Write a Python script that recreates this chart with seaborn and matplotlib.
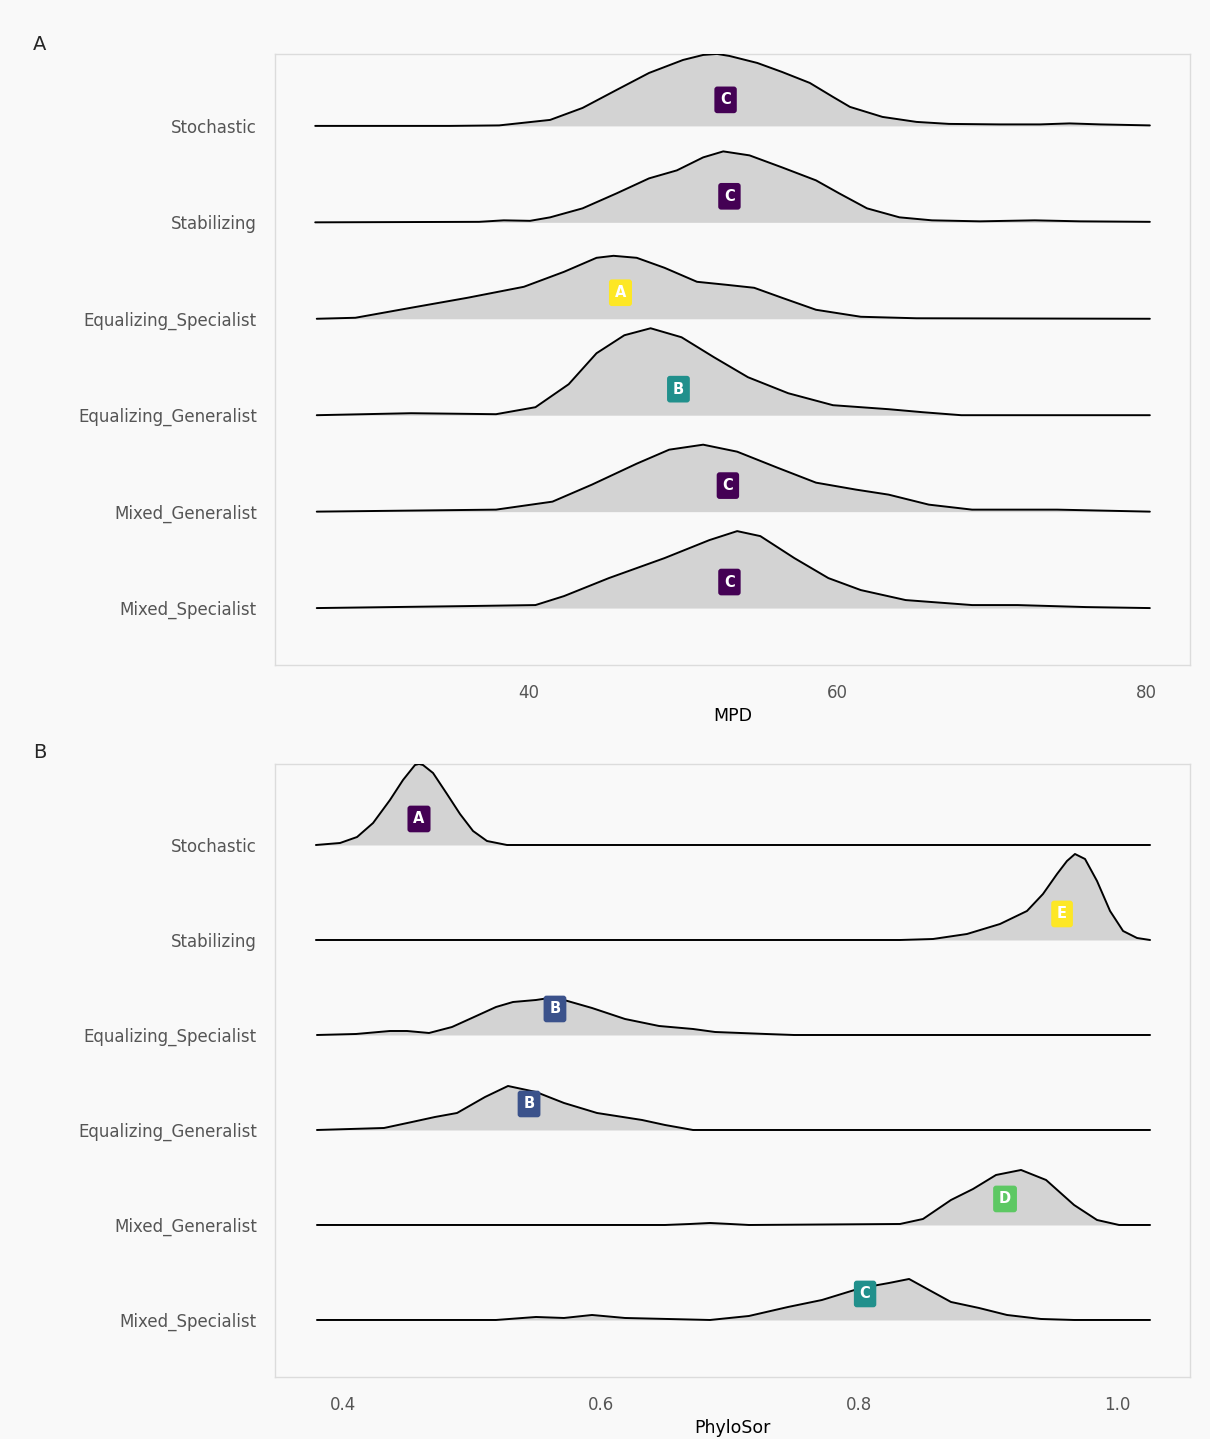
import numpy as np
import pandas as pd
import matplotlib
matplotlib.use("Agg")
import matplotlib.pyplot as plt
import seaborn as sns

# ---- categories (top to bottom) ----
groups = ["Stochastic", "Stabilizing", "Equalizing_Specialist",
          "Equalizing_Generalist", "Mixed_Generalist", "Mixed_Specialist"]

# ---- MPD densities (x in MPD units, relative density height) ----
mpd_x = {
    "Stochastic": [26.2, 34.9, 38.1, 41.4, 43.5, 45.7, 47.8, 50.0, 51.3, 52.2, 53.0, 54.8,
                   56.4, 58.2, 59.7, 60.8, 62.9, 65.1, 67.2, 70.5, 73.1, 75.0, 77.0, 80.2],
    "Stabilizing": [26.2, 36.8, 38.4, 40.1, 41.4, 43.5, 45.7, 47.8, 49.6, 51.3, 52.6, 54.3,
                    56.4, 58.6, 60.1, 61.9, 64.0, 66.1, 69.2, 72.75, 75.7, 80.2],
    "Equalizing_Specialist": [26.3, 28.8, 32.4, 36.05, 39.7, 42.3, 44.4, 45.5, 47.0, 48.8,
                              50.9, 52.8, 54.6, 56.4, 58.6, 61.5, 65.1, 80.2],
    "Equalizing_Generalist": [26.3, 32.4, 37.9, 40.45, 42.6, 44.4, 46.2, 47.9, 49.9, 52.0,
                              54.2, 56.8, 59.7, 63.3, 65.5, 68.0, 80.2],
    "Mixed_Generalist": [26.3, 37.9, 41.55, 44.1, 47.0, 49.1, 51.3, 53.5, 56.1, 58.6, 61.2,
                         63.3, 65.9, 68.7, 74.2, 80.2],
    "Mixed_Specialist": [26.3, 36.05, 40.45, 42.3, 45.2, 48.8, 51.7, 53.5, 55.0, 57.2, 59.4,
                         61.5, 64.4, 68.7, 71.65, 76.05, 80.2],
}
mpd_h = {
    "Stochastic": [0, 0, 0.5, 6, 18, 36, 53, 66, 71, 72, 70, 63, 54, 43, 29, 19, 9, 4, 2,
                   1.5, 1.5, 2.5, 1.5, 0.5],
    "Stabilizing": [0, 0.5, 2, 1.5, 5, 14, 29, 44, 52, 65, 71, 67, 55, 42, 29, 14, 5, 2, 1,
                    2, 1, 0.5],
    "Equalizing_Specialist": [0, 1, 11, 21, 32, 47, 61, 63, 61, 51, 37, 34, 31, 21, 9, 2,
                              0.5, 0],
    "Equalizing_Generalist": [0, 2, 1, 8, 31, 62, 80, 87, 78, 58, 38, 22, 10, 6, 3, 0, 0],
    "Mixed_Generalist": [0, 2, 10, 27, 48, 62, 67, 60, 44, 29, 22, 17, 7, 2, 2, 0],
    "Mixed_Specialist": [0, 2, 3, 12, 30, 50, 68, 77, 72, 50, 30, 18, 8, 3, 3, 1, 0],
}
mpd_letters = ["C", "C", "A", "B", "C", "C"]
mpd_label_x = [52.75, 53.0, 45.95, 49.7, 52.9, 53.0]
mpd_colors = {"A": "#FDE725", "B": "#21908C", "C": "#440154"}

# ---- PhyloSor densities ----
sor_x = {
    "Stochastic": [0.379, 0.3977, 0.4109, 0.4233, 0.4364, 0.4465, 0.4558, 0.4589, 0.4620,
                   0.4698, 0.4806, 0.4907, 0.5008, 0.5116, 0.5271, 1.0256],
    "Stabilizing": [0.379, 0.8318, 0.8574, 0.8837, 0.9093, 0.9302, 0.9426, 0.9535, 0.9612,
                    0.9674, 0.9752, 0.9845, 0.9946, 1.0047, 1.0155, 1.0256],
    "Equalizing_Specialist": [0.3798, 0.4101, 0.4364, 0.4496, 0.4667, 0.4845, 0.5016, 0.5186,
                              0.5318, 0.5496, 0.5600, 0.5713, 0.5930, 0.6186, 0.6450, 0.6713,
                              0.6884, 0.7279, 0.7496, 1.0256],
    "Equalizing_Generalist": [0.3798, 0.4318, 0.4535, 0.4713, 0.4884, 0.5101, 0.5279, 0.5496,
                              0.5713, 0.5969, 0.6318, 0.6496, 0.6713, 1.0256],
    "Mixed_Generalist": [0.3798, 0.6496, 0.669, 0.6845, 0.700, 0.7147, 0.8318, 0.8496, 0.8713,
                         0.8884, 0.9062, 0.9256, 0.9450, 0.9667, 0.9845, 1.0016, 1.0256],
    "Mixed_Specialist": [0.3798, 0.5186, 0.5496, 0.5713, 0.5930, 0.6186, 0.6845, 0.7147,
                         0.7450, 0.7713, 0.8016, 0.8233, 0.8388, 0.8543, 0.8713, 0.8930,
                         0.9147, 0.9411, 0.9667, 1.0256],
}
sor_h = {
    "Stochastic": [0, 2, 8, 22, 45, 65, 80, 81, 80, 72, 51, 31, 14, 4, 0, 0],
    "Stabilizing": [0, 0, 1, 6, 16, 29, 46, 66, 79, 86, 81, 59, 29, 9, 2, 0],
    "Equalizing_Specialist": [0, 1, 4, 4, 2, 8, 18, 28, 33, 35, 37, 35, 27, 16, 9, 6, 3, 1,
                              0, 0],
    "Equalizing_Generalist": [0, 2, 8, 13, 17, 33, 44, 38, 27, 17, 10, 5, 0, 0],
    "Mixed_Generalist": [0, 0, 1, 2, 1, 0, 1, 6, 25, 36, 50, 55, 45, 20, 5, 0, 0],
    "Mixed_Specialist": [0, 0, 3, 2, 5, 2, 0, 4, 13, 20, 32, 37, 41, 30, 18, 12, 5, 1, 0, 0],
}
sor_letters = ["A", "E", "B", "B", "D", "C"]
sor_label_x = [0.4589, 0.9574, 0.5643, 0.5442, 0.9132, 0.8047]
sor_colors = {"A": "#440154", "B": "#3B528B", "C": "#21908C", "D": "#5DC863", "E": "#FDE725"}

sns.set_theme(style="white")
plt.rcParams["font.family"] = ["DejaVu Sans"]

BG = "#f9f9f9"
fig = plt.figure(figsize=(12.10, 14.39), dpi=100, facecolor=BG)
ax_a = fig.add_axes([0.2273, 0.5379, 0.7562, 0.4246])
ax_b = fig.add_axes([0.2273, 0.0431, 0.7562, 0.4260])


def ridges(ax, xs, hs, letters, label_x, colors, scale, ylim, xlim, ticks, ticklabels,
           xlabel, label_off):
    n = len(groups)
    frames = []
    for i, g in enumerate(groups):
        base = n - 1 - i
        frames.append(pd.DataFrame({
            "x": xs[g],
            "y": base + np.asarray(hs[g], dtype=float) * scale,
            "base": base,
            "group": g,
        }))
    df = pd.concat(frames, ignore_index=True)
    for g, sub in df.groupby("group", sort=False):
        ax.fill_between(sub["x"], sub["base"], sub["y"], color="#d3d3d3", lw=0, zorder=2)
    sns.lineplot(data=df, x="x", y="y", units="group", estimator=None, sort=False,
                 color="black", lw=1.4, ax=ax, zorder=3, legend=False)
    for i, g in enumerate(groups):
        base = n - 1 - i
        ax.text(label_x[i], base + label_off, letters[i], ha="center", va="center",
                color="white", fontsize=10.5, fontweight="bold", zorder=5,
                bbox=dict(boxstyle="round,pad=0.4,rounding_size=0.2",
                          fc=colors[letters[i]], ec="none"))
    ax.set_xlim(*xlim)
    ax.set_ylim(*ylim)
    ax.set_yticks([n - 1 - i for i in range(n)])
    ax.set_yticklabels(groups, color="#555555", fontsize=12)
    ax.set_xticks(ticks)
    ax.set_xticklabels(ticklabels, color="#555555", fontsize=12)
    ax.tick_params(axis="x", length=0, pad=14)
    ax.tick_params(axis="y", length=0, pad=13)
    ax.set_xlabel(xlabel, fontsize=12.5, color="black", labelpad=3)
    ax.set_ylabel("")
    ax.set_facecolor(BG)
    for s in ax.spines.values():
        s.set_color("#dcdcdc")
        s.set_linewidth(1.0)


ridges(ax_a, mpd_x, mpd_h, mpd_letters, mpd_label_x, mpd_colors, 1 / 96.5,
       (-0.59, 5.746), (23.6, 82.8), [40, 60, 80], ["40", "60", "80"], "MPD", 0.27)
ridges(ax_b, sor_x, sor_h, sor_letters, sor_label_x, sor_colors, 1 / 95.0,
       (-0.60, 5.853), (0.3473, 1.0566), [0.4, 0.6, 0.8, 1.0],
       ["0.4", "0.6", "0.8", "1.0"], "PhyloSor", 0.274)

fig.text(40 / 1210, 1 - 44 / 1439, "A", fontsize=14, ha="center", va="center")
fig.text(40 / 1210, 1 - 753 / 1439, "B", fontsize=14, ha="center", va="center")

fig.savefig("out.png", dpi=100, facecolor=BG)
